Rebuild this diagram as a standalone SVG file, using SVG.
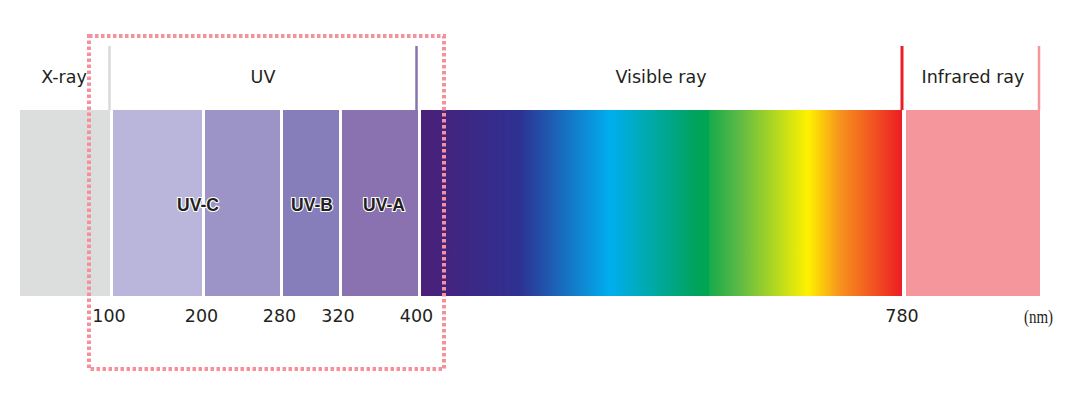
<svg xmlns="http://www.w3.org/2000/svg" width="1080" height="406" viewBox="0 0 1080 406">
<style>
.lbl{font-family:"DejaVu Sans","Liberation Sans",sans-serif;font-size:17.5px;fill:#231f20;text-anchor:middle}
.uv{font-family:"Liberation Sans",Arial,sans-serif;font-size:17.5px;font-weight:bold;fill:#231f20;stroke:#ffffff;stroke-width:2.2px;paint-order:stroke;stroke-linejoin:round;text-anchor:middle}
.unit{font-family:"Liberation Serif","Times New Roman",serif;font-size:19px;fill:#231f20;text-anchor:middle}
</style>
<defs>
<linearGradient id="vis" gradientUnits="userSpaceOnUse" x1="420" y1="0" x2="902" y2="0">
<stop offset="0" stop-color="#4b1f78"/>
<stop offset="0.207" stop-color="#2e3192"/>
<stop offset="0.394" stop-color="#00aeef"/>
<stop offset="0.575" stop-color="#00a35a"/>
<stop offset="0.599" stop-color="#00a651"/>
<stop offset="0.601" stop-color="#19aa4b"/>
<stop offset="0.66" stop-color="#5ab946"/>
<stop offset="0.805" stop-color="#fff200"/>
<stop offset="0.87" stop-color="#f7941d"/>
<stop offset="1" stop-color="#ed1c24"/>
</linearGradient>
</defs>
<rect width="1080" height="406" fill="#ffffff"/>
<g id="xray">
<rect x="20" y="110" width="90" height="186" fill="#dcdddd"/>
<text class="lbl" x="64" y="83">X-ray</text>
</g>
<g id="uvc1"><rect x="113" y="110" width="89" height="186" fill="#bab5da"/></g>
<g id="uvc2"><rect x="205" y="110" width="75" height="186" fill="#9c93c6"/></g>
<g id="uvb"><rect x="283" y="110" width="56" height="186" fill="#857eba"/></g>
<g id="uva"><rect x="342" y="110" width="76" height="186" fill="#8a72b0"/></g>
<g id="uv-label"><text class="lbl" x="263" y="83">UV</text></g>
<g id="visible">
<rect x="421" y="110" width="481" height="186" fill="url(#vis)"/>
<text class="lbl" x="661" y="83">Visible ray</text>
</g>
<g id="infrared">
<rect x="906" y="110" width="134" height="186" fill="#f4969b"/>
<text class="lbl" x="973" y="83">Infrared ray</text>
</g>
<g id="connectors">
<line x1="109.5" y1="46" x2="109.5" y2="110" stroke="#d9d9da" stroke-width="2.5"/>
<line x1="416.5" y1="46" x2="416.5" y2="110" stroke="#8a72b0" stroke-width="2.5"/>
<line x1="902" y1="46" x2="902" y2="110" stroke="#ed1c24" stroke-width="3"/>
<line x1="1039" y1="46" x2="1039" y2="110" stroke="#f4969b" stroke-width="2.5"/>
</g>
<g id="uv-labels">
<text class="uv" x="198" y="211">UV-C</text>
<text class="uv" x="312" y="211">UV-B</text>
<text class="uv" x="384" y="211">UV-A</text>
</g>
<g id="scale">
<text class="lbl" x="109" y="322">100</text>
<text class="lbl" x="201.5" y="322">200</text>
<text class="lbl" x="279.5" y="322">280</text>
<text class="lbl" x="338" y="322">320</text>
<text class="lbl" x="416.5" y="322">400</text>
<text class="lbl" x="902" y="322">780</text>
<text class="unit" x="1038.5" y="323" textLength="29" lengthAdjust="spacingAndGlyphs">(nm)</text>
</g>
<g id="uv-box">
<rect x="89" y="36" width="355" height="333" fill="none" stroke="#f4919a" stroke-width="4" stroke-dasharray="3.5 2.5"/>
</g>
</svg>
